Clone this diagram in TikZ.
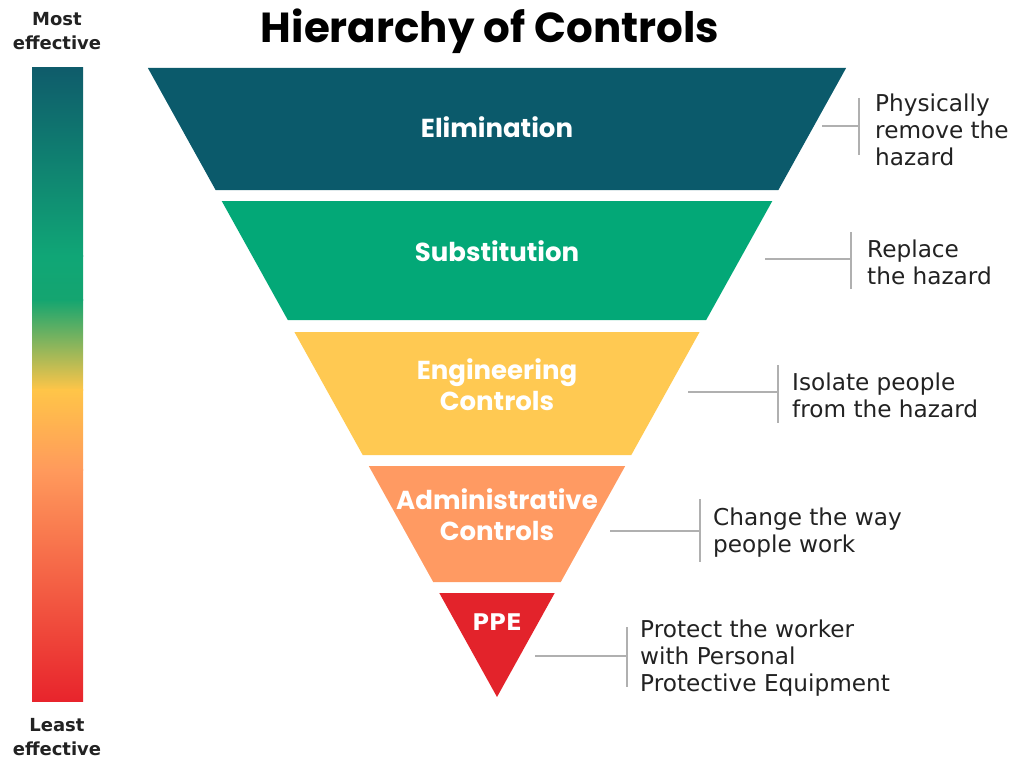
\documentclass[tikz,border=0pt]{standalone}
\usepackage{fontspec}
\setmainfont{DejaVu Sans}
\newfontfamily\geo{Poppins}
\definecolor{cElim}{HTML}{0B5A6B}
\definecolor{cSub}{HTML}{03A877}
\definecolor{cEng}{HTML}{FFC952}
\definecolor{cAdm}{HTML}{FF9A62}
\definecolor{cPPE}{HTML}{E3232B}
\definecolor{gA}{HTML}{0F5C6B}
\definecolor{gB}{HTML}{10A676}
\definecolor{gC}{HTML}{14A570}
\definecolor{gD}{HTML}{FFC548}
\definecolor{gE}{HTML}{FF9A5C}
\definecolor{gF}{HTML}{E8242C}
\definecolor{lineg}{HTML}{B0B0B0}
\definecolor{txt}{HTML}{222222}
\begin{document}
\begin{tikzpicture}[x=1pt,y=-1pt,
  lbl/.style={text=white, font=\geo\bfseries\fontsize{26}{31}\selectfont, align=center, inner sep=0pt},
  desc/.style={anchor=west, align=left, font=\fontsize{23.2}{27}\selectfont, text=txt, inner sep=0pt},
  conn/.style={draw=lineg, line width=1.3pt},
  ends/.style={font=\bfseries\fontsize{18}{24}\selectfont, text=txt, align=center, inner sep=0pt}]
\useasboundingbox (0,0) rectangle (1013,760);
% title
\node[font=\geo\bfseries\fontsize{42}{46}\selectfont, text=black] (title) at (490,31) {Hierarchy of Controls};
% gradient bar
\shade[top color=gA, bottom color=gB] (32,68) rectangle (83,256);
\shade[top color=gB, bottom color=gC] (32,255.5) rectangle (83,300);
\shade[top color=gC, bottom color=gD] (32,299.5) rectangle (83,390);
\shade[top color=gD, bottom color=gE] (32,389.5) rectangle (83,470);
\shade[top color=gE, bottom color=gF] (32,469.5) rectangle (83,701);
\node[ends] (most) at (57,31) {Most\\effective};
\node[ends] (least) at (57,737) {Least\\effective};
% bands
\fill[cElim] (147.9,68) -- (846.1,68) -- (778.4,190) -- (215.6,190) -- cycle;
\fill[cSub] (221.7,201) -- (772.3,201) -- (706.2,320) -- (287.8,320) -- cycle;
\fill[cEng] (294.4,332) -- (699.6,332) -- (631.3,455) -- (362.7,455) -- cycle;
\fill[cAdm] (368.8,466) -- (625.2,466) -- (560.8,582) -- (433.2,582) -- cycle;
\fill[cPPE] (439.3,593) -- (554.7,593) -- (497,697) -- cycle;
% band labels
\node[lbl] (lElim) at (497,127) {Elimination};
\node[lbl] (lSub) at (497,251) {Substitution};
\node[lbl] (lEng) at (497,385) {Engineering\\Controls};
\node[lbl] (lAdm) at (497,515) {Administrative\\Controls};
\node[lbl, font=\bfseries\fontsize{23}{28}\selectfont] (lPPE) at (497,622) {PPE};
% connectors
\coordinate (a1) at (822,126); \coordinate (a2) at (859,126);
\coordinate (a3) at (859,98); \coordinate (a4) at (859,155);
\draw[conn] (a1) -- (a2); \draw[conn] (a3) -- (a4);
\coordinate (b1) at (765,259); \coordinate (b2) at (851,259);
\coordinate (b3) at (851,232); \coordinate (b4) at (851,289);
\draw[conn] (b1) -- (b2); \draw[conn] (b3) -- (b4);
\coordinate (c1) at (688,392); \coordinate (c2) at (778,392);
\coordinate (c3) at (778,365); \coordinate (c4) at (778,423);
\draw[conn] (c1) -- (c2); \draw[conn] (c3) -- (c4);
\coordinate (d1) at (610,531); \coordinate (d2) at (700,531);
\coordinate (d3) at (700,499); \coordinate (d4) at (700,562);
\draw[conn] (d1) -- (d2); \draw[conn] (d3) -- (d4);
\coordinate (e1) at (535,656); \coordinate (e2) at (627,656);
\coordinate (e3) at (627,627); \coordinate (e4) at (627,687);
\draw[conn] (e1) -- (e2); \draw[conn] (e3) -- (e4);
% descriptions
\node[desc] (tElim) at (875,130) {Physically\\remove the\\hazard};
\node[desc] (tSub) at (867,262) {Replace\\the hazard};
\node[desc] (tEng) at (792,395) {Isolate people\\from the hazard};
\node[desc] (tAdm) at (713,533) {Change the way\\people work};
\node[desc] (tPPE) at (640,658) {Protect the worker\\with Personal\\Protective Equipment};
\end{tikzpicture}
\end{document}
